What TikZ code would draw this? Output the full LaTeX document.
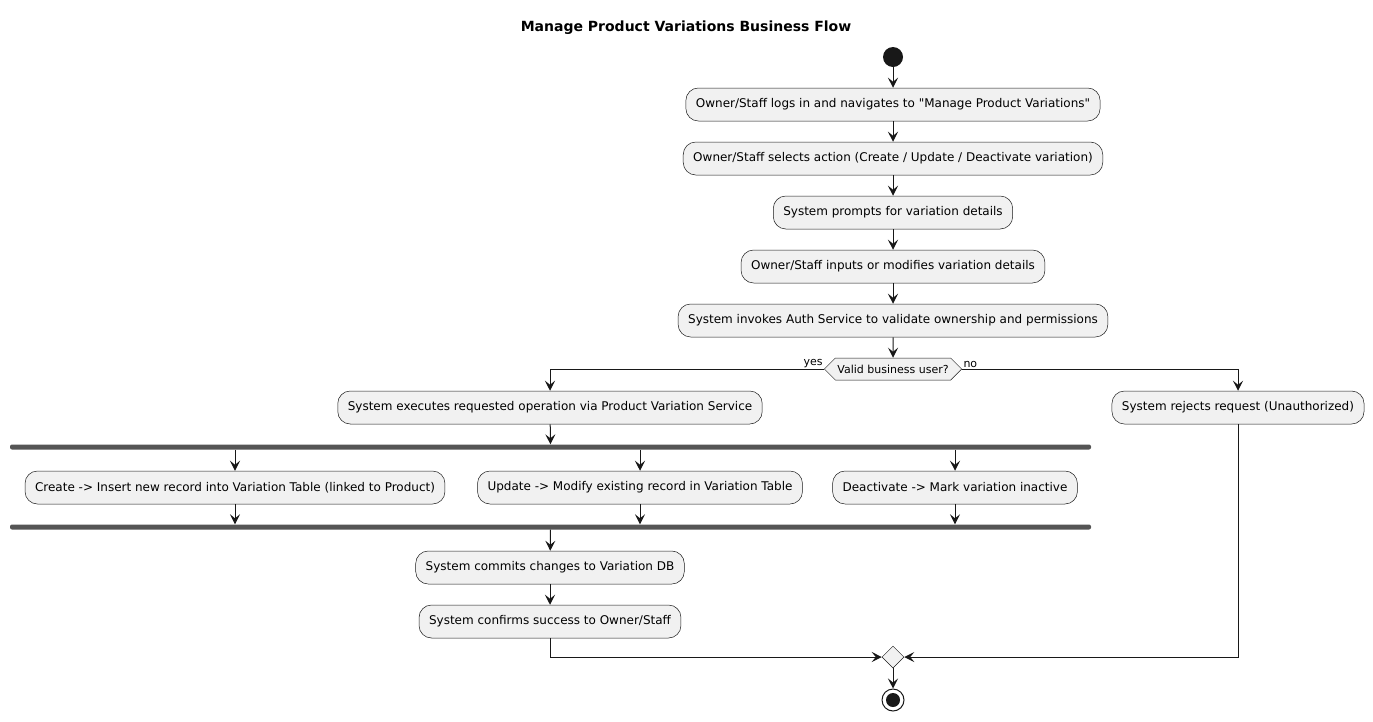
\documentclass[tikz,border=0pt]{standalone}
\usepackage{fontspec}
\setmainfont{DejaVu Sans}[Ligatures=TeXOff]
\usetikzlibrary{arrows.meta,shapes.geometric,shapes.symbols}
\definecolor{umlline}{HTML}{181818}
\definecolor{umlfill}{HTML}{F1F1F1}
\definecolor{umlbar}{HTML}{555555}
\begin{document}
\begin{tikzpicture}
      [x=1pt, y=-1pt, auto,
       font=\fontsize{12}{14}\selectfont,
       act/.style={draw=umlline, fill=umlfill, line width=0.5, rounded corners=12.5, minimum height=33, inner xsep=10},
       bar/.style={fill=umlbar, rounded corners=2, minimum height=5, inner sep=0},
       flow/.style={draw=umlline, line width=1, -{Stealth[length=10, width=10, inset=4]}},
       lbl/.style={font=\fontsize{11}{13}\selectfont, inner sep=1}]
      \useasboundingbox (0, 0) rectangle (1373, 721);
      \node(t) at (686, 28) {\fontsize{14}{16}\selectfont\bfseries Manage Product Variations Business Flow};
      \node(0) at (893, 57) [circle, fill=umlline, minimum size=20, inner sep=0] {};
      \node(1) at (893, 104.5) [act] {Owner/Staff logs in and navigates to "Manage Product Variations"};
      \node(2) at (893, 158.5) [act] {Owner/Staff selects action (Create / Update / Deactivate variation)};
      \node(3) at (893, 212.5) [act] {System prompts for variation details};
      \node(4) at (893, 266.5) [act] {Owner/Staff inputs or modifies variation details};
      \node(5) at (893, 320.5) [act] {System invokes Auth Service to validate ownership and permissions};
      \node(d) at (893, 369) [signal, signal to=west and east, draw=umlline, fill=umlfill, line width=0.5, minimum height=22, inner sep=2, font=\fontsize{11}{13}\selectfont] {Valid business user?};
      \node(6) at (550, 407.5) [act] {System executes requested operation via Product Variation Service};
      \node(7) at (1238, 407.5) [act] {System rejects request (Unauthorized)};
      \node(f1) at (550.5, 447) [bar, minimum width=1081] {};
      \node(8) at (235, 487.5) [act] {Create -> Insert new record into Variation Table (linked to Product)};
      \node(9) at (640, 487.5) [act] {Update -> Modify existing record in Variation Table};
      \node(10) at (955, 487.5) [act] {Deactivate -> Mark variation inactive};
      \node(f2) at (550.5, 527) [bar, minimum width=1081] {};
      \node(11) at (550, 567.5) [act] {System commits changes to Variation DB};
      \node(12) at (550, 621.5) [act] {System confirms success to Owner/Staff};
      \node(m) at (893, 657) [diamond, draw=umlline, fill=umlfill, line width=0.5, minimum size=22, inner sep=0] {};
      \node(e) at (893, 700) [circle, draw=umlline, fill=white, line width=1, minimum size=22, inner sep=0] {};
      \fill[umlline] (e) circle[radius=7];
      \draw[flow](0) -- (1);
      \draw[flow](1) -- (2);
      \draw[flow](2) -- (3);
      \draw[flow](3) -- (4);
      \draw[flow](4) -- (5);
      \draw[flow](5) -- (d);
      \draw[flow](d.west) -| node[lbl, pos=0, above left]{yes} (6);
      \draw[flow](d.east) -| node[lbl, pos=0, above right]{no} (7);
      \draw[flow](6) -- (f1);
      \draw[flow](f1.south -| 8) -- (8);
      \draw[flow](f1.south -| 9) -- (9);
      \draw[flow](f1.south -| 10) -- (10);
      \draw[flow](8) -- (f2.north -| 8);
      \draw[flow](9) -- (f2.north -| 9);
      \draw[flow](10) -- (f2.north -| 10);
      \draw[flow](f2) -- (11);
      \draw[flow](11) -- (12);
      \draw[flow](12) |- (m);
      \draw[flow](7) |- (m);
      \draw[flow](m) -- (e);
  \end{tikzpicture}
\end{document}
